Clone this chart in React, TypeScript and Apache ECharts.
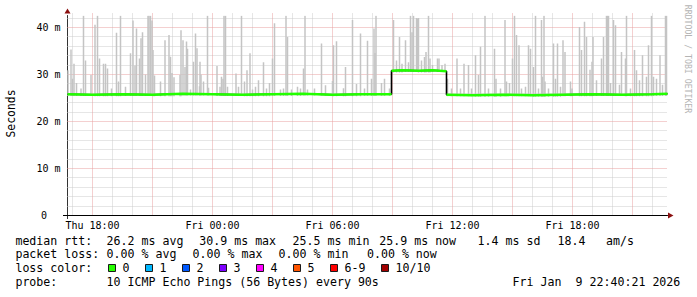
import React, { useEffect, useRef } from 'react';
import * as echarts from 'echarts';

const MONO = "'DejaVu Sans Mono', 'Liberation Mono', monospace";

// time axis in hours since Thu 00:00
const timeStart = 16.75; // Thu 16:45
const timeEnd = 46.75; // Fri 22:45
const rttMax = 42.553; // ms

const xLabelHours = [18, 24, 30, 36, 42];
const yLabelValues = [0, 10, 20, 30, 40];

// median rtt (ms), step line
const medianPoints: [number, number][] = [
  [16.75, 25.8], [18, 25.7], [19.5, 25.8], [21, 25.7], [22.5, 25.9], [24, 25.8],
  [25.5, 25.7], [27, 25.8], [28.5, 25.9], [30, 25.7], [31.5, 25.8], [32.95, 25.8],
  [32.95, 30.8], [33.5, 30.9], [34.3, 30.8], [35, 30.9], [35.7, 30.7],
  [35.7, 25.7], [37, 25.6], [38.5, 25.7], [40, 25.6], [41.5, 25.7], [43, 25.8],
  [44.5, 25.7], [46, 25.8], [46.75, 25.9],
];

// smoke spikes: [hour, max rtt ms]
const smokeSpikes: [number, number][] = [
  [16.775, 30.9], [16.925, 35.3], [17.0, 29.1], [17.075, 32.3], [17.2, 28.2], [17.425, 27.0], [17.55, 42.5], [17.65, 33.0],
  [17.925, 29.9], [18.125, 40.6], [18.25, 42.5], [18.35, 33.4], [18.55, 32.3], [18.65, 32.3], [18.75, 31.3], [18.95, 27.0],
  [19.2, 38.9], [19.3, 28.5], [19.4, 42.5], [19.65, 27.4], [19.9, 34.5], [20.025, 41.5], [20.125, 31.9], [20.2, 39.8],
  [20.35, 33.4], [20.425, 37.7], [20.5, 39.0], [20.65, 30.0], [20.775, 42.5], [20.825, 42.5], [20.9, 42.5], [20.975, 41.5],
  [21.025, 35.2], [21.1, 29.8], [21.4, 28.5], [21.625, 37.3], [21.825, 38.4], [21.9, 33.8], [21.975, 30.3], [22.075, 29.4],
  [22.375, 29.9], [22.425, 39.4], [22.525, 37.3], [22.625, 31.6],
  [22.7, 37.0], [22.75, 35.5], [22.9, 26.8], [23.05, 32.7], [23.15, 38.7], [23.225, 35.6], [23.35, 27.5], [23.375, 32.7],
  [23.425, 30.0], [23.55, 28.5], [23.75, 42.5], [23.8, 27.2], [24.225, 31.8], [24.375, 27.4], [24.45, 29.5], [24.525, 29.1],
  [24.575, 42.5], [24.65, 42.5], [24.75, 27.4], [25.175, 30.2], [25.3, 27.4], [25.45, 42.5], [25.6, 28.5], [25.725, 30.9],
  [25.875, 34.5], [26.0, 26.8], [26.15, 27.4], [26.3, 28.8], [26.55, 32.6], [26.7, 27.0], [26.85, 28.2], [27.0, 33.4],
  [27.1, 40.9], [27.4, 26.8], [27.55, 27.0], [27.675, 42.5], [27.75, 38.0], [27.95, 26.8], [28.25, 27.4], [28.4, 27.0],
  [28.55, 31.3], [28.625, 42.5], [28.75, 26.8],
  [29.1, 27.0], [29.45, 36.6], [29.65, 27.7], [30.0, 28.6], [30.05, 36.2], [30.2, 37.1], [30.55, 27.1], [30.65, 31.6],
  [31.0, 41.6], [31.2, 28.0], [31.4, 38.7], [31.6, 27.0], [31.75, 37.2], [31.95, 29.1], [32.075, 39.8], [32.125, 34.6],
  [32.175, 42.5], [32.45, 28.2], [32.6, 29.1], [32.85, 27.0],
  [33.05, 41.6], [33.2, 33.0], [33.35, 38.0], [33.475, 32.3], [33.65, 37.3], [33.8, 32.6], [33.9, 42.5], [33.975, 39.0],
  [34.05, 42.5], [34.2, 42.0], [34.25, 41.9], [34.3, 42.0], [34.45, 33.0], [34.6, 33.7], [34.675, 34.8],
  [34.8, 42.5], [34.875, 33.4], [35.0, 32.0], [35.25, 33.4], [35.325, 33.4], [35.475, 32.0], [35.625, 32.3],
  [35.75, 29.1], [35.95, 27.0], [36.225, 33.4], [36.4, 27.0], [36.575, 32.3], [36.8, 32.0], [36.95, 27.0], [37.15, 34.1],
  [37.3, 29.9], [37.4, 35.9], [37.625, 42.5], [37.8, 27.0], [38.1, 35.5], [38.175, 29.1], [38.4, 27.0], [38.625, 41.6],
  [38.7, 28.5], [38.85, 28.2], [39.0, 33.4], [39.1, 42.5], [39.2, 38.4], [39.325, 36.2], [39.45, 27.0], [39.65, 27.4],
  [39.8, 36.2], [39.9, 35.5], [40.05, 31.6], [40.15, 42.5], [40.3, 27.0], [40.45, 41.6], [40.5, 29.5], [40.575, 42.5],
  [40.625, 28.5], [40.8, 27.0], [41.05, 36.6], [41.15, 29.1], [41.25, 36.6], [41.4, 27.4], [41.525, 37.3], [41.625, 34.8],
  [41.9, 28.5], [41.975, 27.0], [42.35, 40.1], [42.45, 35.2], [42.6, 41.2], [42.7, 38.0], [42.875, 31.0], [42.975, 32.7],
  [43.025, 38.0], [43.2, 28.8], [43.45, 33.4], [43.55, 38.0], [43.7, 42.5], [43.75, 42.5], [43.8, 42.5], [43.9, 28.2],
  [44.05, 41.6], [44.15, 40.5], [44.35, 27.8], [44.45, 34.8], [44.65, 33.4], [44.7, 42.5], [44.9, 27.0], [45.1, 35.2],
  [45.2, 30.9], [45.35, 28.8], [45.5, 34.1], [45.7, 29.5], [45.8, 36.2], [45.95, 42.5], [46.05, 29.5], [46.2, 29.1],
  [46.375, 34.1], [46.5, 27.8], [46.65, 42.5], [46.7, 42.5],
];

const lossColors = ['#26ff00', '#00b8ff', '#0059ff', '#7e00ff', '#ff00ff', '#ff5500', '#ff0000', '#a10000'];
const lossLabels = ['0', '1', '2', '3', '4', '5', '6-9', '10/10'];

const rttStats = ['26.2 ms avg', '30.9 ms max', '25.5 ms min', '25.9 ms now', '1.4 ms sd', '18.4', 'am/s'];
const lossStats = ['0.00 % avg', '0.00 % max', '0.00 % min', '0.00 % now'];
const probeText = '10 ICMP Echo Pings (56 Bytes) every 90s';
const dateText = ['Fri Jan', '9 22:40:21 2026'];

// grid tick positions
const minorGridHours: number[] = [];
const majorGridHours: number[] = [];
for (let h = 17; h <= 46; h++) (h % 3 === 0 ? majorGridHours : minorGridHours).push(h);
const minorGridMs: number[] = [];
const majorGridMs: number[] = [];
for (let v = 2; v <= 42; v += 2) (v % 10 === 0 ? majorGridMs : minorGridMs).push(v);

function medianAt(t: number): number {
  let m = medianPoints[0][1];
  for (const [pt, pv] of medianPoints) {
    if (pt <= t) m = pv;
  }
  return m;
}

function fmtHour(v: number): string {
  const day = v < 24 ? 'Thu' : 'Fri';
  const hh = Math.round(v) % 24;
  return `${day} ${String(hh).padStart(2, '0')}:00`;
}

const crisp = (v: number) => Math.round(v - 0.5) + 0.5;

export default function App() {
  const ref = useRef<HTMLDivElement>(null);
  useEffect(() => {
    if (!ref.current) return;
    const chart = echarts.init(ref.current, undefined, { renderer: 'svg' });

    const vGrid = (color: string) => (params: any, api: any) => {
      const h = api.value(0);
      const top = api.coord([h, rttMax]);
      const bot = api.coord([h, 0]);
      const x = crisp(top[0]);
      return {
        type: 'line',
        silent: true,
        shape: { x1: x, y1: top[1] - 2, x2: x, y2: bot[1] },
        style: { stroke: color, lineWidth: 1, lineDash: [1, 1] },
      };
    };
    const hGrid = (color: string) => (params: any, api: any) => {
      const v = api.value(1);
      const l = api.coord([timeStart, v]);
      const r = api.coord([timeEnd, v]);
      const y = crisp(l[1]);
      return {
        type: 'line',
        silent: true,
        shape: { x1: l[0], y1: y, x2: r[0], y2: y },
        style: { stroke: color, lineWidth: 1, lineDash: [1, 1] },
      };
    };

    const minorColor = '#cdcdcd';
    const majorColor = '#e8a0a0';

    const smokeData = smokeSpikes.map(([t, top]) => [t, top, medianAt(t) - 0.35]);

    const blackMedian = medianPoints.map((p) => [p[0], p[1]]);
    const greenMedian: any[] = [];
    medianPoints.forEach((p, i) => {
      if (i > 0 && medianPoints[i - 1][0] === p[0]) greenMedian.push([p[0], '-']);
      greenMedian.push([p[0], p[1]]);
    });

    const graphics: any[] = [];
    // axis overhangs & arrows
    graphics.push({ type: 'line', shape: { x1: 63, y1: 215.5, x2: 67.5, y2: 215.5 }, style: { stroke: '#000', lineWidth: 1 } });
    graphics.push({ type: 'line', shape: { x1: 67.5, y1: 215.5, x2: 67.5, y2: 219 }, style: { stroke: '#333', lineWidth: 1 } });
    graphics.push({ type: 'polygon', shape: { points: [[64.5, 13.5], [70.5, 13.5], [67.5, 8.5]] }, style: { fill: '#8b1010' } });
    graphics.push({ type: 'polygon', shape: { points: [[668, 212.5], [668, 218.5], [673.5, 215.5]] }, style: { fill: '#8b1010' } });

    // y axis title
    graphics.push({
      type: 'text', x: 10.5, y: 113.5, rotation: Math.PI / 2,
      style: { text: 'Seconds', fontFamily: MONO, fontSize: 11.4, fill: '#000', align: 'center', verticalAlign: 'middle' },
    });
    // watermark
    graphics.push({
      type: 'text', x: 688, y: 59, rotation: -Math.PI / 2,
      style: { text: 'RRDTOOL / TOBI OETIKER', fontFamily: MONO, fontSize: 8.2, fill: '#b4b4b4', align: 'center', verticalAlign: 'middle' },
    });

    const rowY = [240.9, 254.4, 268.4, 281.9];
    const txt = (x: number, y: number, s: string) => ({
      type: 'text', x, y,
      style: { text: s, fontFamily: MONO, fontSize: 11.6, fill: '#000', align: 'left', verticalAlign: 'middle' },
    });
    const rttX = [106.6, 199.3, 292.6, 379.3, 477.6, 557.6, 606];
    graphics.push(txt(15.4, rowY[0], 'median rtt:'));
    rttStats.forEach((s, i) => graphics.push(txt(rttX[i], rowY[0], s)));
    const lossX = [106.6, 192.6, 278.6, 367];
    graphics.push(txt(15.4, rowY[1], 'packet loss:'));
    lossStats.forEach((s, i) => graphics.push(txt(lossX[i], rowY[1], s)));
    graphics.push(txt(15.4, rowY[2], 'loss color:'));
    const sqX = [108.5, 145.5, 182.5, 219.5, 256.5, 293.5, 330.5, 381.5];
    lossColors.forEach((c, i) => {
      graphics.push({ type: 'rect', shape: { x: sqX[i], y: 264.5, width: 7, height: 7 }, style: { fill: c, stroke: '#1a1a1a', lineWidth: 1 } });
      graphics.push(txt(sqX[i] + 14, rowY[2], lossLabels[i]));
    });
    graphics.push(txt(15.4, rowY[3], 'probe:'));
    graphics.push(txt(106.6, rowY[3], probeText));
    graphics.push(txt(512.6, rowY[3], dateText[0]));
    graphics.push(txt(512.6 + 63, rowY[3], dateText[1]));

    chart.setOption({
      animation: false,
      backgroundColor: '#ffffff',
      grid: { left: 67.5, right: 29.5, top: 15.5, bottom: 81.5, containLabel: false },
      xAxis: {
        type: 'value',
        min: timeStart,
        max: timeEnd,
        axisLine: { show: true, lineStyle: { color: '#000', width: 1 } },
        axisTick: { show: false },
        splitLine: { show: false },
        axisLabel: {
          customValues: xLabelHours,
          formatter: (v: number) => fmtHour(v),
          fontFamily: MONO,
          fontSize: 10,
          color: '#000',
          margin: 5,
        },
      },
      yAxis: {
        type: 'value',
        min: 0,
        max: rttMax,
        interval: 10,
        axisLine: { show: true, lineStyle: { color: '#333', width: 1 } },
        axisTick: { show: false },
        splitLine: { show: false },
        axisLabel: {
          customValues: yLabelValues,
          formatter: (v: number) => (v === 0 ? '{z|0}' : `${v} m`),
          fontFamily: MONO,
          fontSize: 10,
          color: '#000',
          margin: 7,
          rich: { z: { fontFamily: MONO, fontSize: 10, color: '#000', padding: [0, 13.5, 0, 0] } },
        },
      },
      series: [
        { type: 'custom', z: 1, silent: true, data: minorGridMs.map((v) => [timeStart, v]), encode: { x: 0, y: 1 }, renderItem: hGrid(minorColor) },
        { type: 'custom', z: 1, silent: true, data: minorGridHours.map((h) => [h, 0]), encode: { x: 0, y: 1 }, renderItem: vGrid(minorColor) },
        { type: 'custom', z: 1, silent: true, data: majorGridMs.map((v) => [timeStart, v]), encode: { x: 0, y: 1 }, renderItem: hGrid(majorColor) },
        { type: 'custom', z: 1, silent: true, data: majorGridHours.map((h) => [h, 0]), encode: { x: 0, y: 1 }, renderItem: vGrid(majorColor) },
        {
          type: 'custom', z: 2, silent: true, clip: true,
          data: smokeData, encode: { x: 0, y: 1 },
          renderItem: (params: any, api: any) => {
            const t = api.value(0);
            const top = api.coord([t, api.value(1)]);
            const bot = api.coord([t, api.value(2)]);
            const w = 1.5;
            return {
              type: 'rect',
              shape: { x: top[0] - w / 2, y: top[1], width: w, height: bot[1] - top[1] },
              style: { fill: '#c4c4c4' },
            };
          },
        },
        {
          type: 'line', z: 3, silent: true, data: blackMedian, symbol: 'none', showSymbol: false,
          lineStyle: { color: '#000', width: 1.6 },
        },
        {
          type: 'line', z: 4, silent: true, data: greenMedian, symbol: 'none', showSymbol: false, connectNulls: false,
          lineStyle: { color: '#22ff00', width: 2.6 },
        },
      ],
      graphic: { elements: graphics },
    });
    return () => chart.dispose();
  }, []);
  return <div ref={ref} style={{ position: 'fixed', left: 0, top: 0, width: 697, height: 297 }} />;
}
